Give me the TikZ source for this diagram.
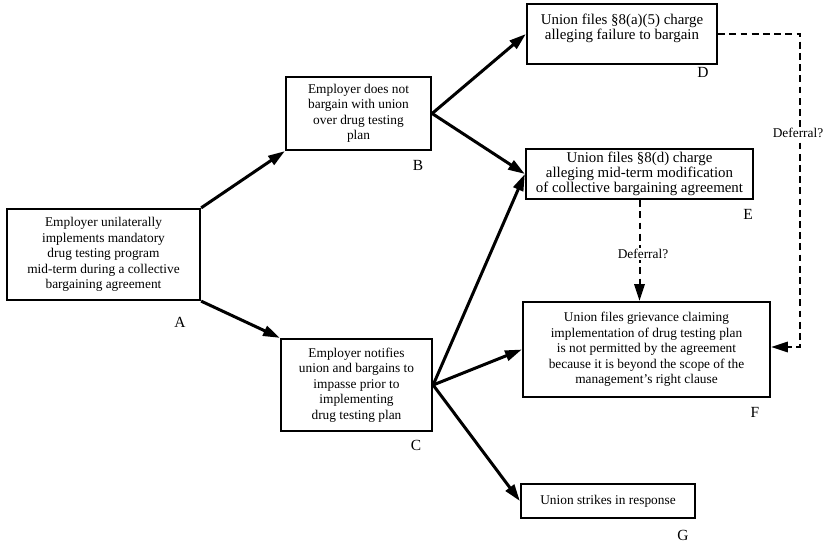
\documentclass[tikz,border=0pt]{standalone}
\usepackage{fontspec}
\setmainfont{Liberation Serif}
\usetikzlibrary{arrows.meta}

\begin{document}
\begin{tikzpicture}[x=0.025cm, y=-0.025cm,
    box/.style={draw, line width=0.55mm, align=center, inner sep=1pt, font=\fontsize{9.5}{11}\selectfont},
    charge/.style={align=center, inner sep=0.5pt, font=\fontsize{10.6}{10.6}\selectfont},
    letter/.style={font=\fontsize{11}{12}\selectfont},
    flow/.style={-{Triangle[length=4.2mm, width=2.6mm]}, line width=0.75mm},
    defer/.style={-{Triangle[length=4.2mm, width=2.6mm]}, line width=0.5mm, dash pattern=on 1.7mm off 1.1mm},
    ask/.style={fill=white, inner sep=1pt, font=\fontsize{9.5}{11}\selectfont}]
    \useasboundingbox (0, 0) rectangle (829, 545);

    \node [box, minimum width=4.825cm, minimum height=2.275cm] (implements) at (103.5, 254.5) {Employer unilaterally\\ implements mandatory\\ drug testing program\\ mid-term during a collective\\ bargaining agreement};
    \node [box, minimum width=3.625cm, minimum height=1.825cm] (noBargain) at (358.5, 113.5) {Employer does not\\ bargain with union\\ over drug testing\\ plan};
    \node [box, minimum width=3.775cm, minimum height=2.3cm] (impasse) at (356.5, 385) {Employer notifies\\ union and bargains to\\ impasse prior to\\ implementing\\ drug testing plan};

    \node [box, minimum width=4.75cm, minimum height=1.5cm] (failBargain) at (622, 34) {};
    \node [charge] (failBargainText) at (622, 28) {Union files \S8(a)(5) charge\\ alleging failure to bargain};
    \node [box, charge, inner sep=1pt, minimum width=5.675cm, minimum height=1.25cm] (modification) at (639.5, 174) {Union files \S8(d) charge\\ alleging mid-term modification\\ of collective bargaining agreement};
    \node [box, minimum width=6.175cm, minimum height=2.375cm] (grievance) at (646.5, 349.5) {Union files grievance claiming\\ implementation of drug testing plan\\ is not permitted by the agreement\\ because it is beyond the scope of the\\ management's right clause};
    \node [box, minimum width=4.35cm, minimum height=0.85cm] (strike) at (608, 501) {Union strikes in response};

    \node [letter] (labelA) at (180, 322) {A};
    \node [letter] (labelB) at (418, 165) {B};
    \node [letter] (labelC) at (416, 445) {C};
    \node [letter] (labelD) at (703, 72) {D};
    \node [letter] (labelE) at (748, 214) {E};
    \node [letter] (labelF) at (755, 412) {F};
    \node [letter] (labelG) at (683, 535) {G};

    \draw [flow] (implements.north east) -- (noBargain.south west);
    \draw [flow] (implements.south east) -- (impasse.north west);
    \draw [flow] (noBargain.east) -- (failBargain.west);
    \draw [flow] (noBargain.east) -- (modification.west);
    \draw [flow] (impasse.east) -- (modification.west);
    \draw [flow] (impasse.east) -- (grievance.west);
    \draw [flow] (impasse.east) -- (strike.west);

    \coordinate (rightTurn) at (800, 347);
    \draw [defer] (failBargain.east) -| (rightTurn) -- (rightTurn -| grievance.east);
    \node [ask] (deferralRight) at (798, 133) {Deferral?};

    \draw [defer] (modification.south) -- (modification.south |- grievance.north);
    \node [ask] (deferralMid) at (643, 254) {Deferral?};
\end{tikzpicture}
\end{document}
